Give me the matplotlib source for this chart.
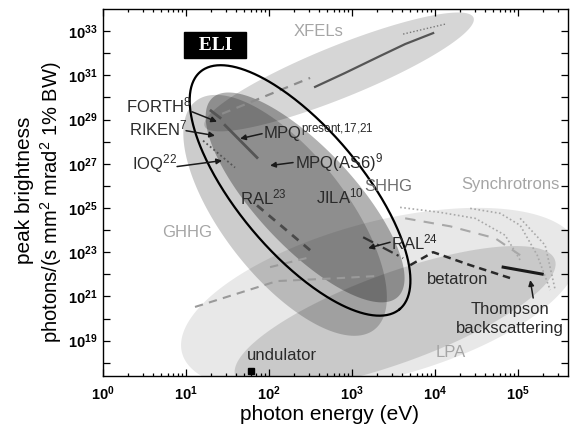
import numpy as np
import matplotlib
matplotlib.use('Agg')
import matplotlib.pyplot as plt
from matplotlib.ticker import FixedLocator, FuncFormatter, NullFormatter, LogLocator, NullLocator

plt.rcParams['font.family'] = ['Liberation Sans', 'DejaVu Sans']
plt.rcParams['mathtext.fontset'] = 'custom'
plt.rcParams['mathtext.rm'] = 'Liberation Sans'
plt.rcParams['mathtext.it'] = 'Liberation Sans:italic'
plt.rcParams['mathtext.bf'] = 'Liberation Sans:bold'
plt.rcParams['mathtext.default'] = 'regular'

# ---------------- data (log10 of photon energy in eV, log10 of peak brightness) --------------
x_log_range = [0.0, 5.6]
y_log_range = [17.4, 34.0]

# source regions (ellipses in log-log space)
region_names = ['Synchrotrons', 'LPA', 'XFELs', 'GHHG', 'SHHG']
region_logE = [3.337, 3.518, 2.843, 2.193, 2.434]
region_logB = [20.838, 20.027, 31.153, 24.667, 25.477]
region_major = [205, 170, 145, 145, 136]
region_minor = [78, 45, 26, 62, 49]
region_angle = [15, 20, 22, -52, -47]
region_alpha = [0.09, 0.13, 0.16, 0.20, 0.30]

# ELI outline
eli_logE, eli_logB, eli_major, eli_minor, eli_angle = 2.373, 25.793, 155, 62, -50

# XFEL curves
xfel_dash_logE = [1.434, 2.494]
xfel_dash_logB = [29.261, 30.883]
xfel_solid_logE = [2.554, 2.916, 3.337, 3.639, 3.976]
xfel_solid_logB = [30.477, 31.108, 31.874, 32.414, 32.910]
xfel_dot_logE = [3.614, 4.120]
xfel_dot_logB = [32.865, 33.315]

# HHG sources
forth_logE = [1.301, 1.410]
forth_logB = [29.396, 29.080]
mpq_logE = [1.470, 1.855]
mpq_logB = [28.740, 27.279]
ioq_logE = [1.205, 1.590]
ioq_logB = [28.045, 26.829]
ral23_logE = [1.855, 2.494]
ral23_logB = [25.117, 23.090]
ral24_logE = [3.133, 3.614]
ral24_logB = [23.676, 22.730]
ghhg1_logE = [1.108, 2.096, 2.855, 3.277]
ghhg1_logB = [20.523, 21.694, 21.829, 21.919]
ghhg2_logE = [2.012, 2.494]
ghhg2_logB = [22.324, 22.775]

# synchrotron curves
sync_dash_logE = [3.639, 4.181, 4.723, 5.024]
sync_dash_logB = [24.532, 24.171, 23.631, 22.865]
sync_dot1_logE = [3.578, 4.060, 4.482, 4.843, 5.024]
sync_dot1_logB = [25.027, 24.802, 24.532, 23.766, 22.640]
sync_dot2_logE = [4.422, 4.783, 5.024, 5.229, 5.386]
sync_dot2_logB = [24.982, 24.757, 24.216, 22.865, 21.288]
sync_dot3_logE = [5.024, 5.325, 5.446]
sync_dot3_logB = [24.532, 23.315, 21.288]

# LPA sources
betatron_logE = [3.699, 3.976, 4.422, 4.904]
betatron_logB = [22.414, 23.000, 22.414, 21.829]
thompson_logE = [4.819, 5.289]
thompson_logB = [22.324, 22.009]
undulator_logE = [1.783]
undulator_logB = [17.64]

# labels
dark_labels = ['FORTH$^{8}$', 'RIKEN$^{7}$', 'IOQ$^{22}$', 'MPQ$^{present{,}17{,}21}$',
               'MPQ(AS6)$^{9}$', 'RAL$^{23}$', 'JILA$^{10}$', 'RAL$^{24}$', 'betatron', 'undulator']
dark_label_logE = [0.277, 0.313, 0.349, 1.928, 2.313, 1.651, 2.566, 3.470, 3.904, 1.735]
dark_label_logB = [29.622, 28.586, 27.009, 28.405, 27.054, 25.477, 25.523, 23.450, 21.784, 18.315]

gray_labels = ['XFELs', 'GHHG', 'Synchrotrons', 'LPA', 'SHHG']
gray_label_logE = [2.590, 1.012, 4.904, 4.193, 3.150]
gray_label_logB = [33.000, 23.901, 26.063, 18.450, 25.973]

# arrows: start -> end
arrow_start_logE = [1.072, 1.000, 0.892, 1.916, 2.289, 3.458, 5.181]
arrow_start_logB = [29.351, 28.495, 26.874, 28.360, 27.054, 23.450, 20.928]
arrow_end_logE = [1.373, 1.349, 1.434, 1.651, 2.012, 3.193, 5.145]
arrow_end_logB = [28.901, 28.270, 27.144, 28.135, 26.919, 23.180, 21.739]

x_tick_exps = [0, 1, 2, 3, 4, 5]
y_tick_exps = list(range(18, 34))

# ---------------- figure ----------------
W, H = 575, 434
fig = plt.figure(figsize=(W / 100, H / 100), dpi=100)
ax = fig.add_axes([103 / W, 58 / H, 465 / W, 367 / H])
ax.set_xscale('log')
ax.set_yscale('log')
ax.set_xlim(10 ** x_log_range[0], 10 ** x_log_range[1])
ax.set_ylim(10 ** y_log_range[0], 10 ** y_log_range[1])

pos = ax.get_position()
sx = pos.width * W / (x_log_range[1] - x_log_range[0])
sy = pos.height * H / (y_log_range[1] - y_log_range[0])


def ellipse_xy(cE, cB, a, b, ang, n=400):
    t = np.linspace(0, 2 * np.pi, n)
    th = np.deg2rad(ang)
    dx = a * np.cos(t) * np.cos(th) - b * np.sin(t) * np.sin(th)
    dy = a * np.cos(t) * np.sin(th) + b * np.sin(t) * np.cos(th)
    return 10 ** (cE + dx / sx), 10 ** (cB + dy / sy)


def p10(v):
    return np.power(10.0, np.asarray(v, dtype=float))


for cE, cB, a, b, ang, al in zip(region_logE, region_logB, region_major, region_minor,
                                  region_angle, region_alpha):
    ex, ey = ellipse_xy(cE, cB, a, b, ang)
    ax.fill(ex, ey, color='black', alpha=al, lw=0, zorder=1)

# lines
ax.plot(p10(xfel_dash_logE), p10(xfel_dash_logB), color='#8c8c8c', lw=1.6, ls=(0, (4, 3)), zorder=2)
ax.plot(p10(xfel_solid_logE), p10(xfel_solid_logB), color='#555555', lw=1.6, zorder=2)
ax.plot(p10(xfel_dot_logE), p10(xfel_dot_logB), color='#777777', lw=1.0, ls=(0, (1, 1.5)), zorder=2)
ax.plot(p10(forth_logE), p10(forth_logB), color='#555555', lw=2, zorder=2)
ax.plot(p10(mpq_logE), p10(mpq_logB), color='#555555', lw=2, zorder=2)
ax.plot(p10(ioq_logE), p10(ioq_logB), color='#555555', lw=1.3, ls=(0, (1, 1.5)), zorder=2)
ax.plot(p10(ral23_logE), p10(ral23_logB), color='#4a4a4a', lw=2, ls=(0, (3, 2.5)), zorder=2)
ax.plot(p10(ral24_logE), p10(ral24_logB), color='#333333', lw=1.6, ls=(0, (5, 2, 1, 2)), zorder=2)
ax.plot(p10(ghhg1_logE), p10(ghhg1_logB), color='#9a9a9a', lw=1.5, ls=(0, (4, 3)), zorder=2)
ax.plot(p10(ghhg2_logE), p10(ghhg2_logB), color='#9a9a9a', lw=1.5, ls=(0, (4, 3)), zorder=2)
ax.plot(p10(sync_dash_logE), p10(sync_dash_logB), color='#a8a8a8', lw=1.5, ls=(0, (5, 4)), zorder=2)
for le, lb in [(sync_dot1_logE, sync_dot1_logB), (sync_dot2_logE, sync_dot2_logB),
               (sync_dot3_logE, sync_dot3_logB)]:
    ax.plot(p10(le), p10(lb), color='#a8a8a8', lw=1.2, ls=(0, (1, 1.5)), zorder=2)
ax.plot(p10(betatron_logE), p10(betatron_logB), color='#2a2a2a', lw=1.8, ls=(0, (3, 2)), zorder=2)
ax.plot(p10(thompson_logE), p10(thompson_logB), color='#1a1a1a', lw=2.2, zorder=2)
ax.plot(p10(undulator_logE), p10(undulator_logB), 's', color='black', ms=5, clip_on=False, zorder=5)

# ELI outline
ex, ey = ellipse_xy(eli_logE, eli_logB, eli_major, eli_minor, eli_angle)
ax.plot(ex, ey, color='black', lw=1.6, zorder=3)

# labels
for s, le, lb in zip(dark_labels, dark_label_logE, dark_label_logB):
    ax.text(10 ** le, 10 ** lb, s, fontsize=12, color='#2a2a2a', ha='left', va='center', zorder=4)
for s, le, lb in zip(gray_labels, gray_label_logE, gray_label_logB):
    ha = 'left' if s == 'SHHG' else 'center'
    col = '#6e6e6e' if s == 'SHHG' else '#a5a5a5'
    ax.text(10 ** le, 10 ** lb, s, fontsize=12, color=col, ha=ha, va='center', zorder=4)
ax.text(10 ** 4.904, 10 ** 19.982, 'Thompson\nbackscattering', fontsize=12, color='#2a2a2a',
        ha='center', va='center', linespacing=1.3, zorder=4)
ax.text(10 ** 1.349, 10 ** 32.369, '  ELI  ', family=['Liberation Serif', 'DejaVu Serif'],
        fontweight='bold', fontsize=14, color='white', ha='center', va='center', zorder=6,
        bbox=dict(facecolor='black', edgecolor='black', boxstyle='square,pad=0.22'))

for se, sb, ee, eb in zip(arrow_start_logE, arrow_start_logB, arrow_end_logE, arrow_end_logB):
    ax.annotate('', xy=(10 ** ee, 10 ** eb), xytext=(10 ** se, 10 ** sb),
                arrowprops=dict(arrowstyle='-|>', color='#1a1a1a', lw=1.1, mutation_scale=8,
                                shrinkA=0, shrinkB=0), zorder=5)

# axes styling
ax.xaxis.set_major_locator(FixedLocator(p10(x_tick_exps)))
ax.xaxis.set_major_formatter(FuncFormatter(lambda v, p: r'$\mathbf{10^{%d}}$' % round(np.log10(v))))
ax.xaxis.set_minor_locator(LogLocator(base=10, subs=np.arange(2, 10), numticks=20))
ax.xaxis.set_minor_formatter(NullFormatter())
ax.yaxis.set_major_locator(FixedLocator(p10(y_tick_exps)))


def yfmt(v, p):
    e = int(round(np.log10(v)))
    return r'$\mathbf{10^{%d}}$' % e if e % 2 == 1 else ''


ax.yaxis.set_major_formatter(FuncFormatter(yfmt))
ax.yaxis.set_minor_locator(NullLocator())
ax.tick_params(which='both', direction='in', top=True, right=True, width=0.9, labelsize=10.5)
ax.tick_params(which='major', length=5)
ax.tick_params(which='minor', length=2.5)
ax.tick_params(axis='x', pad=6)
ax.tick_params(axis='y', pad=4)
for sp in ax.spines.values():
    sp.set_linewidth(1.0)

fig.text(330 / W, 1 - 415 / H, 'photon energy (eV)', fontsize=15, ha='center', va='center')
fig.text(24 / W, 1 - 190 / H, 'peak brightness', fontsize=15, ha='center', va='center', rotation=90)
fig.text(51 / W, 1 - 202 / H, 'photons/(s mm$^2$ mrad$^2$ 1% BW)', fontsize=14.5, ha='center',
         va='center', rotation=90)

fig.savefig('out.png', dpi=100, facecolor='white')
